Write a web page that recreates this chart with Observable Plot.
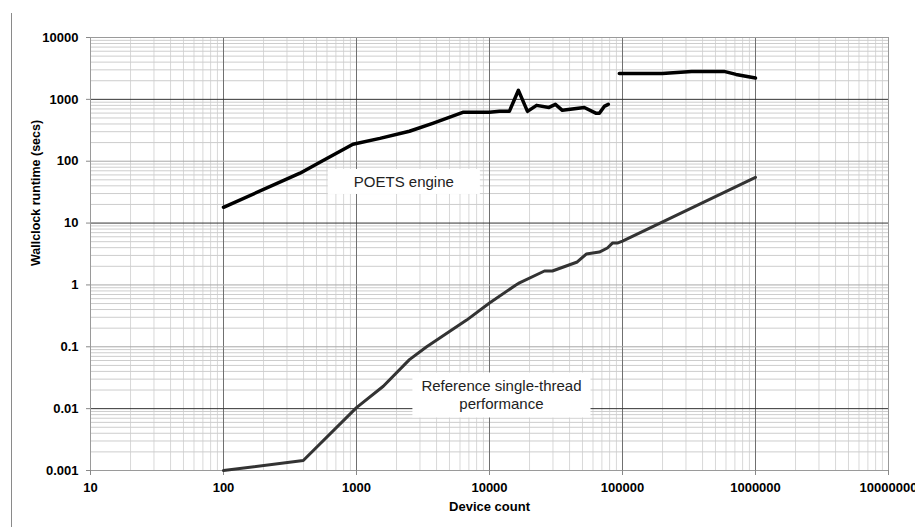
<!DOCTYPE html>
<html><head><meta charset="utf-8">
<script src="https://cdn.jsdelivr.net/npm/d3@7"></script>
<script src="https://cdn.jsdelivr.net/npm/@observablehq/plot@0.6"></script>
<style>
html,body{margin:0;padding:0;background:#fff;}
#wrap{position:relative;width:915px;height:527px;overflow:hidden;}
#edge{position:absolute;left:11px;top:13px;bottom:0;border-left:1px solid #8a8a8a;}
svg{font-family:"Liberation Sans",Arial,sans-serif;}
</style></head><body>
<div id="wrap"><div id="edge"></div></div>
<script>
// POETS engine, first run of measurements
const poetsX1 = [100, 376, 531, 940, 1500, 2500, 3740, 6300, 10000, 11900, 14100, 16500, 19300, 22600, 28000, 31300, 35300, 51600, 63500, 67000, 72900, 78200];
const poetsY1 = [18, 64, 96, 188, 234, 305, 410, 617, 617, 640, 640, 1400, 640, 800, 740, 830, 665, 740, 594, 594, 770, 830];
// POETS engine, second run
const poetsX2 = [94600, 199000, 331000, 580000, 714000, 1000000];
const poetsY2 = [2630, 2630, 2830, 2830, 2530, 2210];
// Reference single-thread performance
const refX = [100, 398, 1000, 1590, 2500, 3370, 6730, 10000, 15800, 16800, 25900, 29700, 45700, 53400, 67000, 77000, 84000, 91500, 100000, 1000000];
const refY = [0.001, 0.00145, 0.0104, 0.023, 0.062, 0.1, 0.27, 0.51, 1.0, 1.08, 1.68, 1.68, 2.35, 3.16, 3.4, 3.95, 4.75, 4.75, 5.1, 55];

// tick labels
const xTicks = [10, 100, 1000, 10000, 100000, 1000000, 10000000];
const yTicks = [0.001, 0.01, 0.1, 1, 10, 100, 1000, 10000];
const yDark = [0.01, 10, 1000];
const yMid = [0.1, 1, 100];

// annotations
const labelText = ["POETS engine", "Reference single-thread\nperformance"];
const labelX = [2270, 12300];
const labelY = [47.5, 0.0168];
const labelPadX = [26, 9];
const labelPadY = [4, 5];

const xAxisTitle = "Device count";
const yAxisTitle = "Wallclock runtime (secs)";

const minorsOf = (decades) => decades.slice(0, -1).flatMap(d => d3.range(2, 10).map(k => k * d));
const xMinor = minorsOf(xTicks);
const yMinor = minorsOf(yTicks);

const poets1 = poetsX1.map((x, i) => ({x, y: poetsY1[i]}));
const poets2 = poetsX2.map((x, i) => ({x, y: poetsY2[i]}));
const ref = refX.map((x, i) => ({x, y: refY[i]}));
const labels = labelText.map((t, i) => ({t, x: labelX[i], y: labelY[i]}));

const chart = Plot.plot({
  width: 915,
  height: 527,
  marginLeft: 90,
  marginRight: 27,
  marginTop: 37,
  marginBottom: 57,
  style: {fontFamily: '"Liberation Sans", Arial, sans-serif', background: "#fff", overflow: "visible"},
  x: {type: "log", domain: [10, 10000000]},
  y: {type: "log", domain: [0.001, 10000]},
  marks: [
    Plot.gridX(xMinor, {stroke: "#d8d8d8", strokeOpacity: 1}),
    Plot.gridY(yMinor, {stroke: "#cdcdcd", strokeOpacity: 1}),
    Plot.gridX(xTicks.slice(1, -1), {stroke: "#707070", strokeOpacity: 1}),
    Plot.gridY(yMid, {stroke: "#a8a8a8", strokeOpacity: 1}),
    Plot.gridY(yDark, {stroke: "#333", strokeOpacity: 1}),
    Plot.frame({stroke: "#9a9a9a"}),
    Plot.axisX(xTicks, {tickFormat: d => String(d), tickSize: 5, tickPadding: 7, fontSize: 13, fontWeight: "bold", stroke: "#888", fill: "#000", label: null}),
    Plot.axisY(yTicks, {tickFormat: d => String(d), tickSize: 4, tickPadding: 8, fontSize: 13, fontWeight: "bold", stroke: "#888", fill: "#000", label: null}),
    Plot.text([xAxisTitle], {frameAnchor: "bottom", dy: 40, fontSize: 13, fontWeight: "bold", fill: "#000"}),
    Plot.text([yAxisTitle], {frameAnchor: "left", rotate: -90, dx: -55, dy: 12, fontSize: 12.5, fontWeight: "bold", fill: "#000"}),
    Plot.line(ref, {x: "x", y: "y", stroke: "#333", strokeWidth: 3, strokeLinejoin: "round"}),
    Plot.line(poets1, {x: "x", y: "y", stroke: "#000", strokeWidth: 3.5, strokeLinejoin: "round"}),
    Plot.line(poets2, {x: "x", y: "y", stroke: "#000", strokeWidth: 3.5, strokeLinejoin: "round"}),
    Plot.text(labels, {x: "x", y: "y", text: "t", fontSize: 15, lineHeight: 1.2, fill: "#222", className: "anno"})
  ]
});
document.getElementById("wrap").appendChild(chart);

// white boxes behind annotations, sized from the rendered text
d3.select(chart).selectAll("g.anno text").each(function(d, i) {
  const bb = this.getBBox();
  const g = this.parentNode;
  const tr = this.getAttribute("transform");
  const r = document.createElementNS("http://www.w3.org/2000/svg", "rect");
  r.setAttribute("x", bb.x - labelPadX[i]);
  r.setAttribute("y", bb.y - labelPadY[i]);
  r.setAttribute("width", bb.width + 2 * labelPadX[i]);
  r.setAttribute("height", bb.height + 2 * labelPadY[i]);
  r.setAttribute("fill", "#fff");
  r.setAttribute("stroke", "none");
  if (tr) r.setAttribute("transform", tr);
  g.insertBefore(r, this);
});
</script>
</body></html>
